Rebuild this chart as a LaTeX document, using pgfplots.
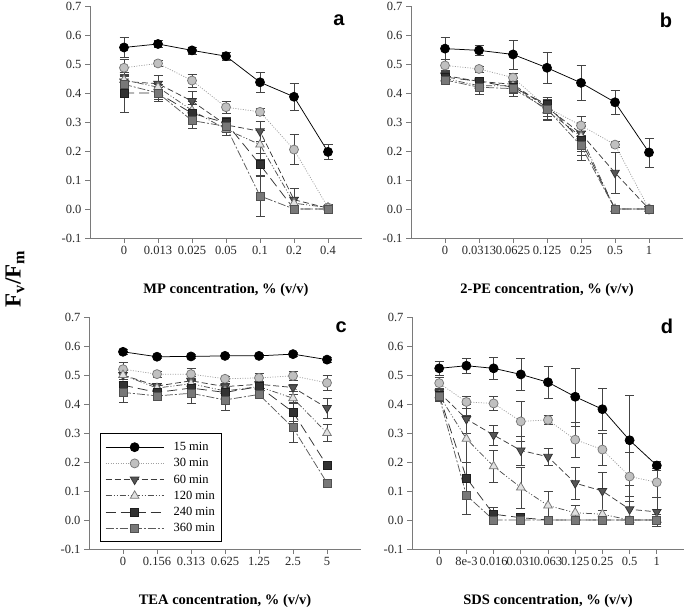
\documentclass[border=0pt]{standalone}
\usepackage{pgfplots}
\pgfplotsset{compat=1.18}
\usepackage{fontspec}
\setmainfont{Liberation Serif}
\setsansfont{Liberation Sans}
\definecolor{axgray}{HTML}{7A7A7A}
\definecolor{ebgray}{HTML}{444444}
\tikzset{
  s15/.style={black, solid, line width=0.75pt, mark=*, mark size=4.5pt, mark options={solid, fill=black, draw=black}},
  s30/.style={color={rgb,255:red,160;green,160;blue,160}, line width=0.75pt, dash pattern=on 1pt off 1.5pt, mark=*, mark size=4.5pt, mark options={solid, fill={rgb,255:red,192;green,192;blue,192}, draw={rgb,255:red,120;green,120;blue,120}}},
  s60/.style={color={rgb,255:red,60;green,60;blue,60}, line width=0.75pt, dash pattern=on 6pt off 3pt, mark=triangle*, mark size=5pt, mark options={solid, rotate=180, fill={rgb,255:red,85;green,85;blue,85}, draw={rgb,255:red,50;green,50;blue,50}}},
  s120/.style={color={rgb,255:red,80;green,80;blue,80}, line width=0.75pt, dash pattern=on 6pt off 2pt on 1pt off 2pt on 1pt off 2pt, mark=triangle*, mark size=5pt, mark options={solid, fill={rgb,255:red,225;green,225;blue,225}, draw={rgb,255:red,120;green,120;blue,120}}},
  s240/.style={color={rgb,255:red,50;green,50;blue,50}, line width=0.75pt, dash pattern=on 10pt off 5pt, mark=square*, mark size=4pt, mark options={solid, fill={rgb,255:red,50;green,50;blue,50}, draw={rgb,255:red,30;green,30;blue,30}}},
  s360/.style={color={rgb,255:red,90;green,90;blue,90}, line width=0.75pt, dash pattern=on 8pt off 2pt on 2pt off 2pt, mark=square*, mark size=4pt, mark options={solid, fill={rgb,255:red,120;green,120;blue,120}, draw={rgb,255:red,80;green,80;blue,80}}},
  plabel/.style={font=\sffamily\bfseries\fontsize{20}{22}\selectfont},
}
\pgfplotsset{
  panel/.style={
    width=272pt, height=232pt, scale only axis,
    axis lines=left, axis line style={-, draw=axgray, line width=0.7pt},
    ymin=-0.1, ymax=0.7, ytick={-0.1,0,0.1,0.2,0.3,0.4,0.5,0.6,0.7},
    xmin=-1, xmax=7, xtick={0,1,2,3,4,5,6},
    tick align=outside, major tick length=5pt,
    tick style={draw=axgray, line width=0.7pt},
    ticklabel style={font=\fontsize{12.5}{14}\selectfont, text=black!85},
    /pgf/number format/assume math mode=true,
    yticklabel style={/pgf/number format/.cd, fixed, fixed zerofill, precision=1},
    xlabel style={font=\bfseries\fontsize{14.5}{16}\selectfont, at={(axis description cs:0.5,0)}, anchor=center, yshift=-52pt},
    clip=false,
    error bars/y dir=both, error bars/y explicit,
    error bars/error bar style={color=ebgray, solid, line width=0.5pt},
    error bars/error mark options={rotate=90, mark size=4.5pt, color=ebgray, solid, line width=0.5pt},
    legend image code/.code={\draw[mark repeat=2,mark phase=2,##1] plot coordinates {(0pt,0pt) (29pt,0pt) (58pt,0pt)};},
  },
}
\begin{document}
\begin{tikzpicture}[x=1pt,y=1pt]
\path[use as bounding box] (0,0) rectangle (685,611);
% ---------- panel a ----------
\begin{axis}[panel, at={(90pt,373pt)}, anchor=south west,
  xticklabels={0,0.013,0.025,0.05,0.1,0.2,0.4},
  xlabel={MP concentration, \% (v/v)}]
\addplot[s15] coordinates {(0,0.557)+-(0,0.035) (1,0.569)+-(0,0.012) (2,0.547)+-(0,0.012) (3,0.527)+-(0,0.015) (4,0.437)+-(0,0.033) (5,0.387)+-(0,0.045) (6,0.197)+-(0,0.025)};
\addplot[s30] coordinates {(0,0.487)+-(0,0.03) (1,0.502)+-(0,0.01) (2,0.443)+-(0,0.022) (3,0.351)+-(0,0.02) (4,0.335)+-(0,0.012) (5,0.205)+-(0,0.052) (6,0.005)+-(0,0.01)};
\addplot[s60] coordinates {(0,0.44)+-(0,0.03) (1,0.432)+-(0,0.03) (2,0.372)+-(0,0.035) (3,0.29)+-(0,0.02) (4,0.268)+-(0,0.035) (5,0.032)+-(0,0.04) (6,0.003)+-(0,0.008)};
\addplot[s120] coordinates {(0,0.445)+-(0,0.025) (1,0.42)+-(0,0.02) (2,0.34)+-(0,0.03) (3,0.275)+-(0,0.02) (4,0.222)+-(0,0.05) (5,0.02)+-(0,0.02) (6,0.005)+-(0,0.008)};
\addplot[s240] coordinates {(0,0.40)+-(0,0.065) (1,0.40)+-(0,0.03) (2,0.33)+-(0,0.03) (3,0.297)+-(0,0.02) (4,0.153)+-(0,0.04) (5,0.0)+-(0,0.005) (6,0.0)+-(0,0.005)};
\addplot[s360] coordinates {(0,0.43)+-(0,0.03) (1,0.40)+-(0,0.02) (2,0.305)+-(0,0.025) (3,0.285)+-(0,0.02) (4,0.045)+-(0,0.07) (5,0.0)+-(0,0.005) (6,0.0)+-(0,0.005)};
\node[plabel] at (axis description cs:0.915,0.94) {a};
\end{axis}
% ---------- panel b ----------
\begin{axis}[panel, at={(411pt,373pt)}, anchor=south west,
  xticklabels={0,0.0313,0.0625,0.125,0.25,0.5,1},
  xlabel={2-PE concentration, \% (v/v)}]
\addplot[s15] coordinates {(0,0.553)+-(0,0.038) (1,0.547)+-(0,0.018) (2,0.533)+-(0,0.05) (3,0.487)+-(0,0.055) (4,0.435)+-(0,0.06) (5,0.368)+-(0,0.042) (6,0.195)+-(0,0.05)};
\addplot[s30] coordinates {(0,0.495)+-(0,0.02) (1,0.483)+-(0,0.01) (2,0.453)+-(0,0.015) (3,0.35)+-(0,0.02) (4,0.288)+-(0,0.033) (5,0.222)+-(0,0.01) (6,0.0)+-(0,0.005)};
\addplot[s60] coordinates {(0,0.46)+-(0,0.02) (1,0.44)+-(0,0.015) (2,0.43)+-(0,0.02) (3,0.35)+-(0,0.03) (4,0.26)+-(0,0.06) (5,0.125)+-(0,0.07) (6,0.0)+-(0,0.005)};
\addplot[s120] coordinates {(0,0.45)+-(0,0.015) (1,0.425)+-(0,0.015) (2,0.425)+-(0,0.02) (3,0.34)+-(0,0.03) (4,0.25)+-(0,0.05) (5,0.0)+-(0,0.005) (6,0.0)+-(0,0.005)};
\addplot[s240] coordinates {(0,0.455)+-(0,0.015) (1,0.44)+-(0,0.015) (2,0.42)+-(0,0.02) (3,0.36)+-(0,0.025) (4,0.235)+-(0,0.05) (5,0.0)+-(0,0.005) (6,0.0)+-(0,0.005)};
\addplot[s360] coordinates {(0,0.445)+-(0,0.01) (1,0.42)+-(0,0.025) (2,0.415)+-(0,0.025) (3,0.345)+-(0,0.04) (4,0.218)+-(0,0.05) (5,0.0)+-(0,0.005) (6,0.0)+-(0,0.005)};
\node[plabel] at (axis description cs:0.9375,0.94) {b};
\end{axis}
% ---------- panel c ----------
\begin{axis}[panel, at={(89pt,62pt)}, anchor=south west,
  xticklabels={0,0.156,0.313,0.625,1.25,2.5,5},
  xlabel={TEA concentration, \% (v/v)},
  legend style={at={(axis description cs:0.04,0.03)}, anchor=south west, draw=black, line width=0.8pt, fill=white,
    font=\fontsize{12.5}{14}\selectfont, inner xsep=5pt, inner ysep=7pt, row sep=3.4pt,
    nodes={inner sep=1.5pt},
    /tikz/every odd column/.append style={column sep=8pt}},
  legend cell align=left]
\addplot[s15] coordinates {(0,0.58)+-(0,0.008) (1,0.563)+-(0,0.006) (2,0.564)+-(0,0.006) (3,0.566)+-(0,0.006) (4,0.566)+-(0,0.006) (5,0.572)+-(0,0.008) (6,0.553)+-(0,0.008)};
\addplot[s30] coordinates {(0,0.52)+-(0,0.025) (1,0.503)+-(0,0.01) (2,0.503)+-(0,0.02) (3,0.487)+-(0,0.01) (4,0.49)+-(0,0.015) (5,0.497)+-(0,0.015) (6,0.473)+-(0,0.025)};
\addplot[s60] coordinates {(0,0.50)+-(0,0.015) (1,0.462)+-(0,0.01) (2,0.48)+-(0,0.015) (3,0.46)+-(0,0.012) (4,0.468)+-(0,0.01) (5,0.457)+-(0,0.012) (6,0.386)+-(0,0.035)};
\addplot[s120] coordinates {(0,0.50)+-(0,0.015) (1,0.455)+-(0,0.01) (2,0.47)+-(0,0.015) (3,0.445)+-(0,0.012) (4,0.46)+-(0,0.01) (5,0.42)+-(0,0.015) (6,0.30)+-(0,0.03)};
\addplot[s240] coordinates {(0,0.465)+-(0,0.015) (1,0.44)+-(0,0.01) (2,0.455)+-(0,0.015) (3,0.44)+-(0,0.012) (4,0.46)+-(0,0.01) (5,0.372)+-(0,0.03) (6,0.188)+-(0,0.008)};
\addplot[s360] coordinates {(0,0.44)+-(0,0.035) (1,0.428)+-(0,0.01) (2,0.437)+-(0,0.035) (3,0.414)+-(0,0.035) (4,0.433)+-(0,0.01) (5,0.318)+-(0,0.05) (6,0.128)+-(0,0.01)};
\legend{15 min,30 min,60 min,120 min,240 min,360 min}
\node[plabel] at (axis description cs:0.927,0.957) {c};
\end{axis}
% ---------- panel d ----------
\begin{axis}[panel, at={(412pt,62pt)}, anchor=south west,
  xmin=-1, xmax=9, xtick={0,1,2,3,4,5,6,7,8},
  xticklabels={0,8e-3,0.016,0.031,0.063,0.125,0.25,0.5,1},
  xlabel={SDS concentration, \% (v/v)}]
\addplot[s15] coordinates {(0,0.523)+-(0,0.025) (1,0.532)+-(0,0.025) (2,0.523)+-(0,0.038) (3,0.502)+-(0,0.055) (4,0.475)+-(0,0.055) (5,0.425)+-(0,0.1) (6,0.382)+-(0,0.072) (7,0.275)+-(0,0.155) (8,0.188)+-(0,0.015)};
\addplot[s30] coordinates {(0,0.472)+-(0,0.02) (1,0.407)+-(0,0.02) (2,0.402)+-(0,0.025) (3,0.34)+-(0,0.07) (4,0.345)+-(0,0.015) (5,0.277)+-(0,0.06) (6,0.243)+-(0,0.055) (7,0.15)+-(0,0.085) (8,0.13)+-(0,0.05)};
\addplot[s60] coordinates {(0,0.44)+-(0,0.015) (1,0.348)+-(0,0.05) (2,0.293)+-(0,0.035) (3,0.24)+-(0,0.05) (4,0.218)+-(0,0.03) (5,0.127)+-(0,0.055) (6,0.10)+-(0,0.065) (7,0.037)+-(0,0.045) (8,0.028)+-(0,0.05)};
\addplot[s120] coordinates {(0,0.43)+-(0,0.015) (1,0.28)+-(0,0.08) (2,0.185)+-(0,0.055) (3,0.112)+-(0,0.07) (4,0.05)+-(0,0.048) (5,0.025)+-(0,0.025) (6,0.02)+-(0,0.015) (7,0.0)+-(0,0.005) (8,0.0)+-(0,0.005)};
\addplot[s240] coordinates {(0,0.43)+-(0,0.015) (1,0.145)+-(0,0.055) (2,0.02)+-(0,0.025) (3,0.008)+-(0,0.008) (4,0.0)+-(0,0.005) (5,0.0)+-(0,0.005) (6,0.0)+-(0,0.005) (7,0.0)+-(0,0.005) (8,0.0)+-(0,0.005)};
\addplot[s360] coordinates {(0,0.425)+-(0,0.015) (1,0.085)+-(0,0.065) (2,0.0)+-(0,0.005) (3,0.0)+-(0,0.005) (4,0.0)+-(0,0.005) (5,0.0)+-(0,0.005) (6,0.0)+-(0,0.005) (7,0.0)+-(0,0.005) (8,0.0)+-(0,0.02)};
\node[plabel] at (axis description cs:0.937,0.96) {d};
\end{axis}
% ---------- shared y label ----------
\node[rotate=90, font=\bfseries\fontsize{23}{26}\selectfont] at (15,332) {F\textsubscript{v}/F\textsubscript{m}};
\end{tikzpicture}
\end{document}
